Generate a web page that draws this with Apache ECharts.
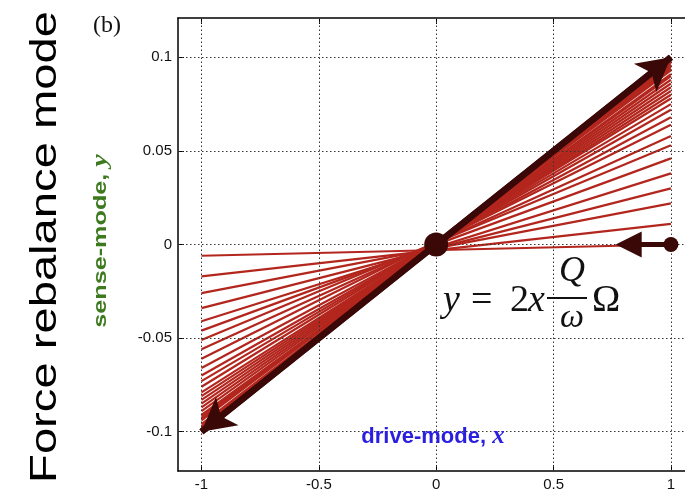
<!DOCTYPE html>
<html><head><meta charset="utf-8">
<script src="https://cdn.jsdelivr.net/npm/echarts@6/dist/echarts.min.js"></script>
<style>html,body{margin:0;padding:0;background:#fff}#c{width:685px;height:492px}</style>
</head><body><div id="c"></div>
<script>
// ---- data ----
const xTicks = [-1, -0.5, 0, 0.5, 1];
const yTicks = [-0.1, -0.05, 0, 0.05, 0.1];
const fanX = [-1, 1];
const fanLeftY = [-0.006, -0.017, -0.026, -0.034, -0.041, -0.046, -0.051, -0.056, -0.061, -0.066, -0.070, -0.073, -0.076, -0.079, -0.081, -0.083, -0.085, -0.087, -0.089, -0.091, -0.092, -0.093, -0.094, -0.096, -0.097, -0.098, -0.099, -0.100];
const fanRightY = [0.000, 0.011, 0.022, 0.030, 0.038, 0.046, 0.053, 0.058, 0.064, 0.068, 0.072, 0.075, 0.078, 0.080, 0.082, 0.084, 0.086, 0.088, 0.090, 0.091, 0.093, 0.094, 0.095, 0.096, 0.097, 0.098, 0.099, 0.100];
const mainArrow = [[-1, -0.1], [1, 0.1]];
const originPoint = [[0, 0]];
const feedbackArrow = [[1, 0], [0.82, 0]];

const RED = '#b3261d', DARK = '#3a0806';
const chart = echarts.init(document.getElementById('c'), null, {renderer: 'canvas'});

const series = [];
series.push({
  type: 'line', data: [], z: 0, silent: true,
  markLine: {
    silent: true, symbol: 'none', animation: false,
    label: {show: false},
    lineStyle: {type: [1.5, 2.5], color: '#333', width: 1},
    data: xTicks.map(v => ({xAxis: v})).concat(yTicks.map(v => ({yAxis: v})))
  }
});
for (let i = 0; i < fanLeftY.length; i++) {
  series.push({
    type: 'line', silent: true, symbol: 'none', z: 3,
    data: [[fanX[0], fanLeftY[i]], [fanX[1], fanRightY[i]]],
    lineStyle: {color: RED, width: 2.2}
  });
}
series.push({
  type: 'line', data: mainArrow, symbol: 'none', z: 4, silent: true,
  lineStyle: {color: DARK, width: 6.5},
  markLine: {
    silent: true, animation: false, symbol: ['arrow', 'arrow'], symbolSize: [27, 33],
    label: {show: false},
    lineStyle: {color: DARK, width: 6.5, type: 'solid'},
    data: [[{coord: mainArrow[0]}, {coord: mainArrow[1]}]]
  }
});
series.push({
  type: 'line', data: [], z: 4, silent: true,
  markLine: {
    silent: true, animation: false,
    label: {show: false},
    lineStyle: {color: DARK, width: 5, type: 'solid'},
    data: [[
      {coord: feedbackArrow[0], symbol: 'circle', symbolSize: 15},
      {coord: feedbackArrow[1], symbol: 'triangle', symbolSize: 26}
    ]]
  }
});
series.push({
  type: 'scatter', data: originPoint, symbol: 'circle', symbolSize: 24, z: 5, silent: true,
  itemStyle: {color: DARK, opacity: 1}
});

const axisCommon = {
  type: 'value',
  axisLine: {show: true, onZero: false, lineStyle: {color: '#000', width: 1.5}},
  splitLine: {show: false}
};
const tickFont = {fontSize: 15, color: '#111', fontFamily: 'Liberation Sans'};

chart.setOption({
  animation: false,
  backgroundColor: '#fff',
  grid: {left: 178, top: 18, right: 0, height: 453, containLabel: false},
  xAxis: [
    Object.assign({}, axisCommon, {min: -1.1, max: 1.06, position: 'bottom',
      axisTick: {inside: true, length: 6, customValues: xTicks, lineStyle: {color: '#000'}},
      axisLabel: Object.assign({customValues: xTicks, margin: 6, formatter: v => String(v)}, tickFont)}),
    Object.assign({}, axisCommon, {min: -1.1, max: 1.06, position: 'top',
      axisTick: {inside: true, length: 6, customValues: xTicks, lineStyle: {color: '#000'}},
      axisLabel: {show: false}})
  ],
  yAxis: [
    Object.assign({}, axisCommon, {min: -0.121, max: 0.121, position: 'left',
      axisTick: {inside: true, length: 6, customValues: yTicks, lineStyle: {color: '#000'}},
      axisLabel: Object.assign({customValues: yTicks, margin: 6, formatter: v => String(v)}, tickFont)}),
    Object.assign({}, axisCommon, {min: -0.121, max: 0.121, position: 'right',
      axisLine: {show: false},
      axisTick: {show: false},
      axisLabel: {show: false}})
  ],
  series: series,
  graphic: [
    {type: 'text', x: 93, y: 26, z: 10, style: {text: '(b)', font: '24px "Liberation Serif"', fill: '#111', verticalAlign: 'middle'}},
    {type: 'text', x: 46, y: 247, rotation: Math.PI / 2, scaleX: 1.31, scaleY: 1, z: 10,
      style: {text: 'Force rebalance mode', font: '36px "Liberation Sans"', fill: '#000', align: 'center', verticalAlign: 'middle'}},
    {type: 'text', x: 101, y: 241, rotation: Math.PI / 2, scaleX: 1.4, scaleY: 1, z: 10,
      style: {text: '{a|sense-mode, }{b|y}', align: 'center', verticalAlign: 'middle',
        rich: {a: {fontFamily: 'Liberation Sans', fontWeight: 'bold', fontSize: 18, fill: '#3d7a1f'},
               b: {fontFamily: 'Liberation Serif', fontStyle: 'italic', fontWeight: 'bold', fontSize: 20, fill: '#3d7a1f'}}}},
    {type: 'rect', z: 1, shape: {x: 333, y: 410, width: 200, height: 51}, style: {fill: '#fff'}},
    {type: 'text', x: 433, y: 437, z: 10,
      style: {text: '{a|drive-mode, }{b|x}', align: 'center', verticalAlign: 'middle',
        rich: {a: {fontFamily: 'Liberation Sans', fontWeight: 'bold', fontSize: 22, fill: '#2a1fe0'},
               b: {fontFamily: 'Liberation Serif', fontStyle: 'italic', fontWeight: 'bold', fontSize: 25, fill: '#2a1fe0'}}}},
    {type: 'rect', z: 1, shape: {x: 440, y: 256, width: 185, height: 76}, style: {fill: '#fff'}},
    {type: 'text', x: 443, y: 301, z: 10, style: {text: 'y', font: 'italic 38px "Liberation Serif"', fill: '#111', verticalAlign: 'middle'}},
    {type: 'text', x: 471, y: 301, z: 10, style: {text: '=', font: '38px "Liberation Serif"', fill: '#111', verticalAlign: 'middle'}},
    {type: 'text', x: 510, y: 301, z: 10, style: {text: '2', font: '38px "Liberation Serif"', fill: '#111', verticalAlign: 'middle'}},
    {type: 'text', x: 528, y: 301, z: 10, style: {text: 'x', font: 'italic 38px "Liberation Serif"', fill: '#111', verticalAlign: 'middle'}},
    {type: 'text', x: 572, y: 272, z: 10, style: {text: 'Q', font: 'italic 36px "Liberation Serif"', fill: '#111', align: 'center', verticalAlign: 'middle'}},
    {type: 'rect', z: 10, shape: {x: 547, y: 297, width: 40, height: 2}, style: {fill: '#111'}},
    {type: 'text', x: 572, y: 318, z: 10, style: {text: 'ω', font: 'italic 34px "Liberation Serif"', fill: '#111', align: 'center', verticalAlign: 'middle'}},
    {type: 'text', x: 592, y: 301, z: 10, style: {text: 'Ω', font: '38px "Liberation Serif"', fill: '#111', verticalAlign: 'middle'}}
  ]
});
</script></body></html>
